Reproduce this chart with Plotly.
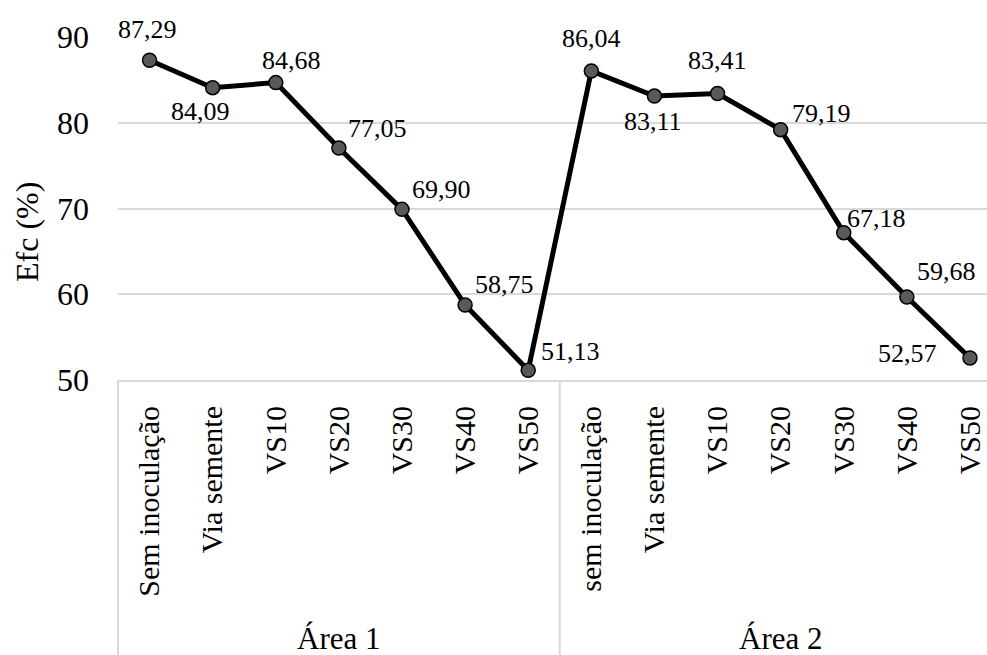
import plotly.graph_objects as go

# Treatments (inner category level) and areas (outer level)
treatments = ["Sem inoculação", "Via semente", "VS10", "VS20", "VS30", "VS40", "VS50",
              "sem inoculação", "Via semente", "VS10", "VS20", "VS30", "VS40", "VS50"]
areas = ["Área 1", "Área 2"]
efc_area1 = [87.29, 84.09, 84.68, 77.05, 69.90, 58.75, 51.13]
efc_area2 = [86.04, 83.11, 83.41, 79.19, 67.18, 59.68, 52.57]
y_ticks = [50, 60, 70, 80, 90]

efc = efc_area1 + efc_area2
x_idx = list(range(len(treatments)))

# Pixel offsets of each value label relative to its marker (dx right, dy up)
label_offsets = [(-2, 31), (-12, -24), (16, 22), (39, 20), (40, 20), (39, 20), (42, 19),
                 (0, 32), (-1, -25), (0, 33), (41, 16), (33, 14), (40, 25), (-62, 4)]

W, H = 987, 655
L, R, T, B = 118, 0, 37, 275
plot_h = H - T - B
FONT = "Liberation Serif"
GRID = "#d9d9d9"


def py(px):
    """Convert a pixel row of the page to paper y."""
    return (H - B - px) / plot_h


def pxx(px):
    """Convert a pixel column of the page to paper x."""
    return (px - L) / (W - L - R)


fig = go.Figure()
fig.add_trace(go.Scatter(
    x=x_idx, y=efc, mode="lines+markers",
    line=dict(color="black", width=5),
    marker=dict(size=14, color="#595959", line=dict(color="black", width=1.5)),
    cliponaxis=False, showlegend=False, hoverinfo="skip",
))

annotations = []
for i, v in enumerate(efc):
    dx, dy = label_offsets[i]
    annotations.append(dict(
        x=i, y=v, xref="x", yref="y", text=f"{v:.2f}".replace(".", ","),
        showarrow=False, xshift=dx, yshift=dy,
        font=dict(family=FONT, size=26, color="black"),
    ))

# Outer category labels
group_centers = [3, 10]
for name, c in zip(areas, group_centers):
    annotations.append(dict(
        x=c, y=py(638), xref="x", yref="paper", text=name, showarrow=False,
        yanchor="middle", font=dict(family=FONT, size=31, color="black"),
    ))

# Y axis title
annotations.append(dict(
    x=pxx(27), y=py(232), xref="paper", yref="paper", text="Efc (%)",
    textangle=-90, showarrow=False, xanchor="center", yanchor="middle",
    font=dict(family=FONT, size=32, color="black"),
))

shapes = [
    # left border of the category box
    dict(type="line", xref="paper", yref="paper", x0=0, x1=0, y0=0, y1=py(H),
         line=dict(color=GRID, width=2)),
    # divider between the two areas
    dict(type="line", xref="x", yref="paper", x0=6.5, x1=6.5, y0=0, y1=py(H),
         line=dict(color=GRID, width=2)),
]

fig.update_layout(
    width=W, height=H,
    margin=dict(l=L, r=R, t=T, b=B, pad=0),
    paper_bgcolor="white", plot_bgcolor="white",
    font=dict(family=FONT, color="black"),
    annotations=annotations, shapes=shapes,
    xaxis=dict(
        range=[-0.5, 13.5 - 14.5 / 63], tickmode="array", tickvals=x_idx, ticktext=treatments,
        tickangle=-90, tickfont=dict(family=FONT, size=30, color="black"),
        showgrid=False, zeroline=False, showline=True, linecolor=GRID, linewidth=2,
        ticks="", ticklabelstandoff=12, fixedrange=True,
    ),
    yaxis=dict(
        range=[50, 90], tickmode="array", tickvals=y_ticks,
        tickfont=dict(family=FONT, size=32, color="black"),
        showgrid=True, gridcolor=GRID, gridwidth=2, zeroline=False, showline=False,
        ticks="", ticklabelstandoff=28, fixedrange=True,
    ),
)

fig.write_html("out.html")
